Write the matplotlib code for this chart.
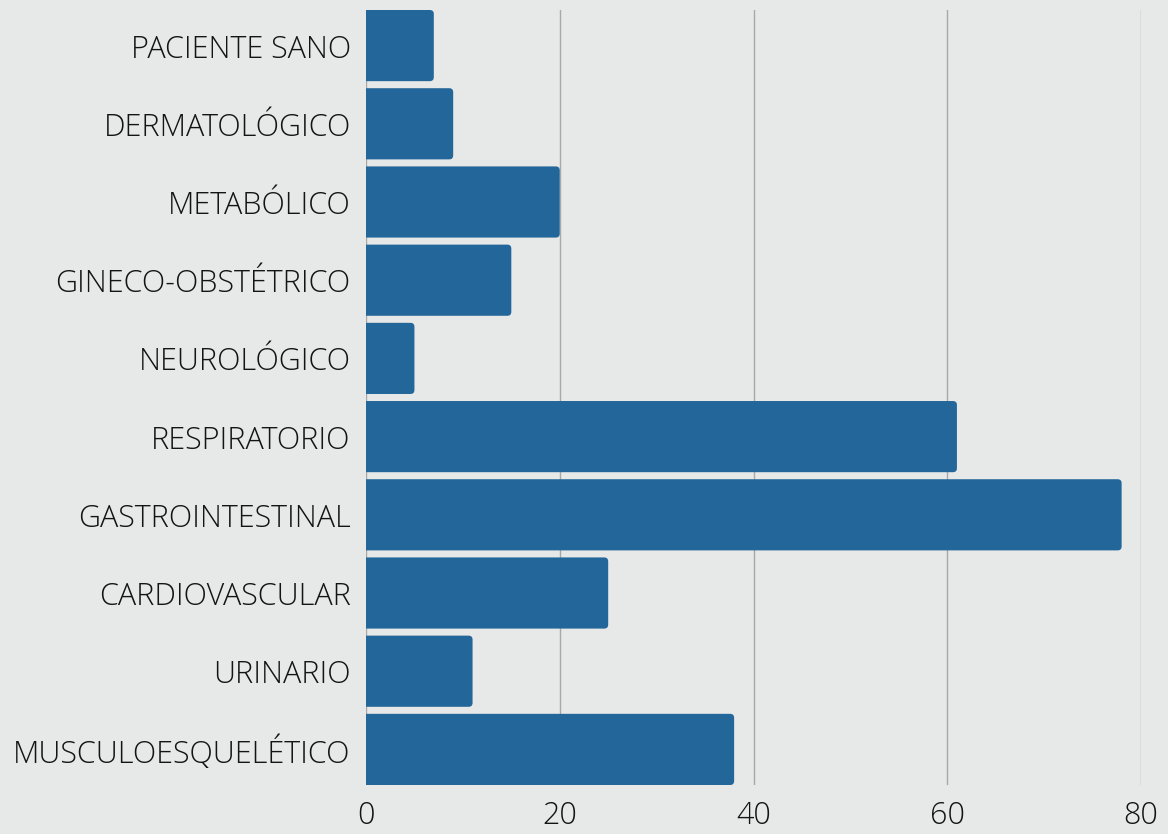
import matplotlib
matplotlib.use("Agg")
import matplotlib.pyplot as plt
from matplotlib import font_manager
from matplotlib.patches import FancyBboxPatch

categories = ["PACIENTE SANO", "DERMATOLÓGICO", "METABÓLICO", "GINECO-OBSTÉTRICO",
              "NEUROLÓGICO", "RESPIRATORIO", "GASTROINTESTINAL", "CARDIOVASCULAR",
              "URINARIO", "MUSCULOESQUELÉTICO"]
values = [7, 9, 20, 15, 5, 61, 78, 25, 11, 38]
ticks = [0, 20, 40, 60, 80]

BG, BAR, INK, GRID = "#e7e8e8", "#236699", "#141414", "#a8a8a8"

fp = font_manager.FontProperties(family=["Open Sans", "DejaVu Sans"], weight="light",
                                 size=22)

fig = plt.figure(figsize=(11.68, 8.34), dpi=100, facecolor=BG)
ax = fig.add_axes([366 / 1168, 49 / 834, 775 / 1168, 775 / 834])
ax.set_facecolor(BG)

H = 0.91
ax.set_xlim(0, 80)
ax.set_ylim(len(categories) - 1 + H / 2, -H / 2)

# rounded right ends; the left side starts below 0 so the axes clip keeps it square
px_x = 775 / 80
px_y = 775 / (len(categories) - 1 + H)
r = 4 / px_x
for i, v in enumerate(values):
    p = FancyBboxPatch((-2, i - H / 2), v + 2, H,
                       boxstyle=f"round,pad=0,rounding_size={r}",
                       mutation_aspect=px_x / px_y,
                       fc=BAR, ec="none", zorder=3)
    ax.add_patch(p)

ax.set_yticks(range(len(categories)))
ax.set_yticklabels(categories, fontproperties=fp, color=INK)
ax.set_xticks(ticks)
ax.set_xticklabels([str(t) for t in ticks], fontproperties=fp, color=INK)
ax.tick_params(length=0)
ax.tick_params(axis="y", pad=11)
ax.tick_params(axis="x", pad=11)
ax.grid(axis="x", color=GRID, linewidth=1, zorder=0)
for s in ax.spines.values():
    s.set_visible(False)

fig.savefig("out.png", dpi=100, facecolor=BG)
